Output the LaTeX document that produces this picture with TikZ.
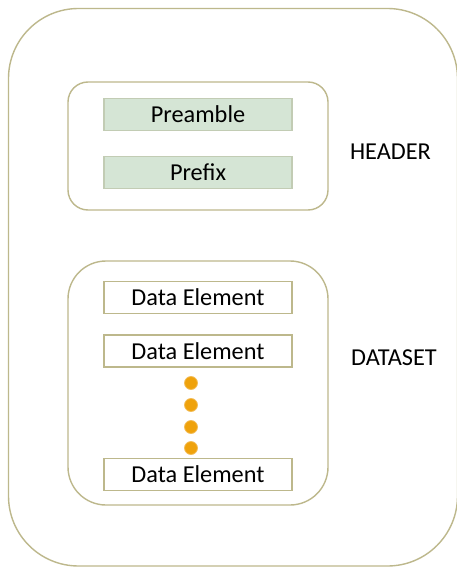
\documentclass[tikz,border=0pt]{standalone}
\usepackage{fontspec}
\setmainfont{Carlito}
\definecolor{olive}{HTML}{BDB88C}
\definecolor{greenfill}{HTML}{D5E5D5}
\definecolor{greenline}{HTML}{C2CCB4}
\definecolor{dotfill}{HTML}{EFA20C}
\definecolor{dotline}{HTML}{F3BE5A}
\begin{document}
\begin{tikzpicture}[x=1pt,y=-1pt,
  container/.style={draw=olive,line width=1.4pt},
  greenbox/.style={draw=greenline,fill=greenfill,line width=1.4pt,minimum width=188pt,minimum height=32pt,inner sep=0pt,font=\fontsize{24.3}{26}\selectfont},
  databox/.style={draw=olive,fill=white,line width=1.4pt,minimum width=188pt,minimum height=32pt,inner sep=0pt,font=\fontsize{24.3}{26}\selectfont},
  dotnode/.style={circle,draw=dotline,fill=dotfill,line width=0.8pt,minimum size=13pt,inner sep=0pt},
  sidelabel/.style={font=\fontsize{24.3}{26}\selectfont,inner sep=0pt}]
\useasboundingbox (0,0) rectangle (457,567);
\fill[white] (0,0) rectangle (457,567);
% outer container
\draw[container,rounded corners=70pt] (8.5,8.5) rectangle (457.5,566);
% header container
\draw[container,rounded corners=20pt] (68,82) rectangle (328,210);
% dataset container
\draw[container,rounded corners=38pt] (68,261) rectangle (328,505);
% header boxes
\node[greenbox] (pre) at (198,114.5) {Preamble};
\node[greenbox] (pfx) at (198,172.5) {Prefix};
% data elements
\node[databox] (d1) at (198,297.5) {Data Element};
\node[databox] (d2) at (198,351) {Data Element};
\node[databox] (d3) at (198,474.5) {Data Element};
% dots
\node[dotnode] (c1) at (191,383) {};
\node[dotnode] (c2) at (191,405) {};
\node[dotnode] (c3) at (191,427) {};
\node[dotnode] (c4) at (191,448) {};
% labels
\node[sidelabel] (hl) at (390.5,152) {HEADER};
\node[sidelabel] (dl) at (394,357.5) {DATASET};
\end{tikzpicture}
\end{document}
